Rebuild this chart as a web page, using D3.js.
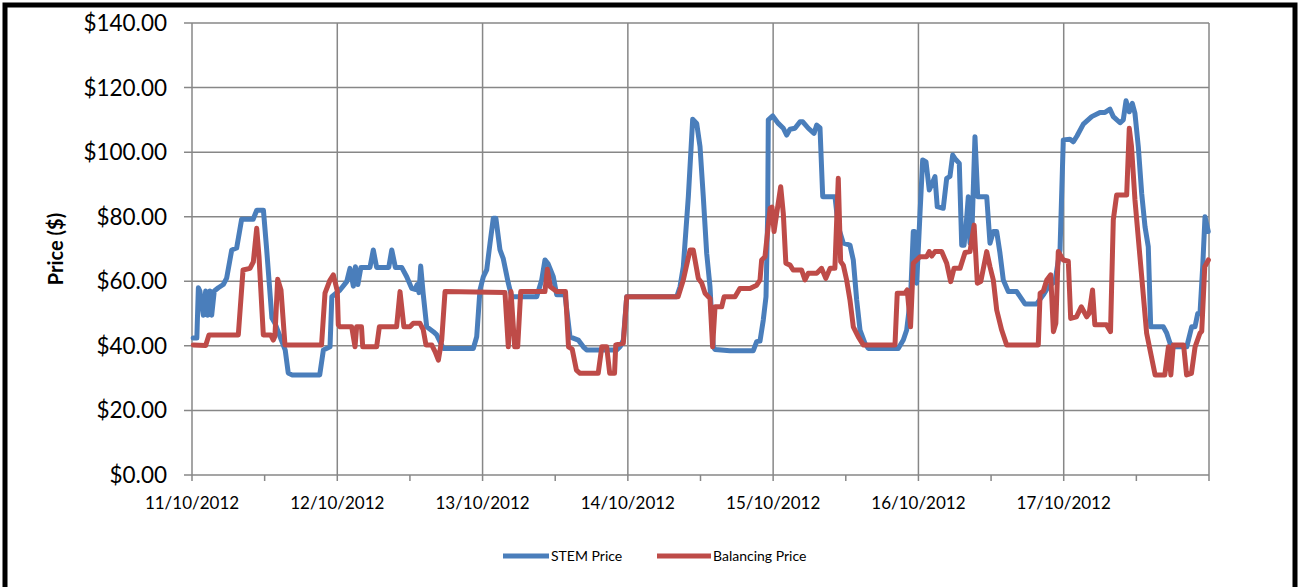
<!DOCTYPE html>
<html><head><meta charset="utf-8">
<script src="https://cdn.jsdelivr.net/npm/d3@7/dist/d3.min.js"></script>
<style>
html,body{margin:0;padding:0;background:#fff;}
svg{display:block;font-family:Lato,"Open Sans",sans-serif;}
</style></head>
<body>
<svg id="chart" width="1300" height="587"></svg>
<script>
// ---- data (hours since 11/10/2012 00:00, price $) ----
const dateLabels = ["11/10/2012","12/10/2012","13/10/2012","14/10/2012","15/10/2012","16/10/2012","17/10/2012"];
const yTickValues = [0,20,40,60,80,100,120,140];
const seriesNames = ["STEM Price","Balancing Price"];
const stemPoints = [[0.2,42.4],[0.8,42.4],[1.05,58],[1.3,57],[1.87,49.5],[2.26,57],[2.6,49.5],[2.97,57],[3.25,49.5],[3.68,57],[4.35,58],[5.17,59],[5.73,61],[6.56,69.7],[7.38,70.3],[8.2,79.2],[10.1,79.2],[10.7,82],[11.8,82],[12.3,70.7],[13.2,48.6],[13.7,47],[15.4,38.7],[15.9,31.6],[16.5,31],[21.1,31],[21.7,38.7],[22.8,39.7],[23.1,55.2],[24.45,57.3],[25.56,59.9],[26.1,64],[26.65,58.5],[27.0,64.5],[27.4,59],[27.9,64.3],[29.4,64.3],[29.95,69.7],[30.5,64.3],[32.5,64.3],[33.0,69.7],[33.6,64.3],[34.64,64.3],[35.47,61.4],[36.29,57.8],[36.84,57.5],[37.2,59],[37.5,56.5],[37.78,64.7],[38.2,56],[38.77,45.9],[39.86,44.4],[40.4,43.5],[41.51,39.2],[46.47,39.2],[47.03,42.8],[47.57,57.3],[48.12,61.4],[48.68,63.5],[49.23,71.8],[49.77,79.5],[50.2,79.5],[50.88,69.7],[51.42,67],[52.25,59.4],[52.81,55.2],[56.94,55.2],[57.77,60.4],[58.31,66.6],[58.8,65.5],[59.68,61.4],[60.25,55.8],[61.62,55.8],[62.44,42.8],[63.81,41.8],[64.64,39.7],[65.2,38.7],[70.16,38.7],[70.7,39.7],[71.25,41.8],[71.81,55.2],[80.07,55.2],[80.62,58.3],[81.16,64.5],[81.99,86.2],[82.71,110.2],[83.37,108.9],[83.92,101.7],[84.46,86.2],[85.02,68.7],[85.57,58.3],[86.11,39.7],[86.39,38.9],[88.87,38.5],[92.72,38.5],[93.28,41.3],[93.83,41.5],[94.37,48],[94.82,55.2],[95.1,81],[95.2,110],[95.93,111.2],[96.85,108.9],[97.68,107.4],[98.24,105.3],[98.78,107.1],[99.6,107.4],[100.44,109.4],[100.9,109.4],[101.81,107.4],[102.75,105.8],[103.2,108.4],[103.74,107.5],[104.19,86.2],[106.22,86.2],[106.76,76.9],[107.59,71.8],[108.69,71.2],[109.24,66.6],[109.8,54.2],[110.35,44.9],[111.17,40.8],[111.72,39.2],[116.67,39.2],[117.5,41.8],[118.06,44.9],[118.32,49],[118.7,55],[119.15,75.4],[119.35,75.4],[119.71,59.4],[120.26,81],[120.7,97.6],[121.25,97],[121.79,88.3],[122.2,90],[122.73,92.4],[123.11,83.1],[124.1,82.6],[124.67,91.9],[125.21,92.5],[125.66,99.1],[126.04,98],[126.75,96.5],[127.15,71.2],[127.53,71.2],[127.86,76.9],[128.24,86.2],[128.52,71.8],[128.85,76],[129.34,104.8],[129.79,86.2],[131.28,86.2],[131.82,71.8],[132.37,75.4],[132.93,75.4],[133.47,68.7],[134.02,60.4],[134.85,56.8],[136.23,56.8],[137.6,53],[139.54,53],[140.63,55.8],[141.46,58.3],[142.56,60],[143.39,69.7],[143.93,103.8],[145.04,104],[145.58,103.2],[146.19,105],[147.24,108.7],[148.62,111],[149.99,112.3],[150.82,112.3],[151.64,113.3],[152.19,111],[153.3,109.1],[153.84,110],[154.29,115.9],[154.83,112.5],[155.33,115.1],[155.77,112],[156.32,101.7],[156.88,87.2],[157.43,76.9],[157.97,70.7],[158.37,45.9],[160.45,45.9],[161.01,44],[161.56,40.8],[162.1,39.7],[164.32,39.7],[165.14,45.9],[165.69,45.9],[166.14,50],[166.51,50],[166.96,64.5],[167.34,80],[167.88,75.4]];
const balancingPoints = [[0.21,40.3],[2.26,40.1],[2.8,43.4],[7.65,43.4],[8.43,63.5],[9.58,64],[10.13,66],[10.69,76.4],[11.07,67.6],[11.78,43.4],[13.0,43.4],[13.43,41.8],[13.7,43],[14.15,60.6],[14.7,57.3],[15.36,40.3],[21.4,40.3],[21.97,56.3],[22.8,60.4],[23.35,62],[24.0,57],[24.17,46.5],[24.45,45.9],[26.38,45.9],[26.93,39.7],[27.2,45.9],[28.0,45.9],[28.2,39.7],[30.5,39.7],[30.95,45.9],[33.8,45.9],[34.36,56.8],[35.0,45.9],[36.0,45.9],[36.56,47],[37.66,47],[38.2,45],[38.65,40.3],[39.6,40.3],[40.15,38.2],[40.7,35.6],[41.25,41.8],[41.8,56.8],[51.7,56.5],[52.25,39.7],[52.7,56.8],[53.3,39.7],[53.8,39.7],[54.3,56.8],[58.3,56.8],[58.7,63.7],[59.2,58.3],[60.25,56.8],[61.7,56.8],[62.2,39.7],[62.8,39],[63.5,32.5],[64.1,31.5],[67.1,31.5],[67.7,39.7],[68.5,39.7],[69.0,31.5],[69.8,31.5],[70.0,40.3],[71.25,40.8],[71.81,55.2],[80.3,55.2],[81.16,60.4],[82.27,69.7],[82.8,69.7],[83.64,60.9],[84.2,59.5],[84.75,56.3],[85.57,54.7],[86.0,39.7],[86.4,52.1],[87.5,52.1],[87.9,55.2],[89.7,55.2],[90.5,57.8],[92.17,57.8],[93.28,58.8],[93.83,60.4],[94.1,66.6],[94.65,67.6],[95.5,82.6],[95.8,83],[96.15,75.4],[96.59,81],[97.25,89.3],[97.68,81],[98.1,65.6],[98.8,65],[99.3,63.5],[100.7,63.5],[101.26,60.4],[101.8,62.5],[103.2,62.5],[104.0,64],[104.7,60.9],[105.4,64],[106.2,64],[106.76,91.9],[107.15,66.1],[107.59,65],[108.14,60.4],[108.69,54.2],[109.24,45.9],[110.07,42.8],[110.9,40.3],[116.13,40.3],[116.5,56.3],[117.77,56.3],[118.15,57.3],[118.7,45.9],[119.15,65.6],[120.26,67.6],[121.36,67.6],[121.79,69.2],[122.2,67.8],[122.73,69.2],[123.84,69.2],[124.67,65.6],[125.33,59.9],[125.88,64],[126.87,64],[127.7,68.9],[128.52,69.2],[129.2,77.4],[129.73,59.4],[130.3,59.9],[131.28,69.2],[131.82,64.5],[132.37,60.4],[132.93,51.1],[133.75,44.9],[134.57,40.3],[139.8,40.3],[140.1,56.3],[140.63,57],[141.2,60.4],[141.85,62],[142.3,44.4],[142.7,47],[143.1,69.2],[143.93,66.6],[144.76,66.2],[145.15,48.5],[146.1,49],[146.9,52.1],[147.8,49],[148.2,50],[148.76,57.3],[149.14,46.5],[151.07,46.5],[151.73,44.4],[152.19,79],[152.74,86.7],[154.4,86.7],[154.83,107.4],[155.2,101.7],[155.77,85.2],[157.7,43.9],[159.1,31],[160.7,31],[161.3,39.7],[161.7,31],[162.1,40.3],[163.8,40.3],[164.3,31],[165.1,31.5],[165.7,39.7],[166.5,43.9],[166.8,44.5],[167.3,64.5],[167.9,66.6]];
const seriesColors = ["#4a7ebb","#be4b48"];

// ---- layout ----
const svg = d3.select("#chart");
const L = 192, R = 1209, T = 23, B = 475;
const x = d3.scaleLinear().domain([0, 168]).range([L, R]);
const y = d3.scaleLinear().domain([0, 140]).range([B, T]);
const gridColor = "#878787";

// outer frame
svg.append("rect").attr("x", 5).attr("y", 5).attr("width", 1290).attr("height", 600)
  .attr("fill", "none").attr("stroke", "#000").attr("stroke-width", 5);

// horizontal gridlines
svg.append("g").selectAll("line").data(yTickValues).join("line")
  .attr("x1", L - 8).attr("x2", R).attr("y1", d => y(d)).attr("y2", d => y(d))
  .attr("stroke", gridColor).attr("stroke-width", 1.5);
// vertical gridlines (day boundaries)
svg.append("g").selectAll("line").data(d3.range(0, 8)).join("line")
  .attr("x1", d => x(d * 24)).attr("x2", d => x(d * 24)).attr("y1", T).attr("y2", B + 6)
  .attr("stroke", gridColor).attr("stroke-width", 1.5);
// half-day ticks
svg.append("g").selectAll("line").data(d3.range(0, 7)).join("line")
  .attr("x1", d => x(d * 24 + 12)).attr("x2", d => x(d * 24 + 12)).attr("y1", B).attr("y2", B + 6)
  .attr("stroke", gridColor).attr("stroke-width", 1.5);

// y tick labels
svg.append("g").selectAll("text").data(yTickValues).join("text")
  .attr("x", 167).attr("y", d => y(d) + 8).attr("text-anchor", "end")
  .attr("font-size", 22.5).attr("fill", "#000")
  .text(d => "$" + d3.format(".2f")(d));

// x labels
svg.append("g").selectAll("text").data(dateLabels).join("text")
  .attr("x", (d, i) => x(i * 24)).attr("y", 509).attr("text-anchor", "middle")
  .attr("font-size", 17).attr("fill", "#000").text(d => d);

// y axis title
svg.append("text").attr("transform", "translate(63,249) rotate(-90)")
  .attr("text-anchor", "middle").attr("font-size", 20).attr("font-weight", "bold").text("Price ($)");

// series
const line = d3.line().x(d => x(d[0])).y(d => y(d[1]));
[stemPoints, balancingPoints].forEach((pts, i) => {
  svg.append("path").datum(pts).attr("d", line).attr("fill", "none")
    .attr("stroke", seriesColors[i]).attr("stroke-width", 5)
    .attr("stroke-linejoin", "round").attr("stroke-linecap", "round");
});

// legend
const legendItems = [{x: 503, w: 46}, {x: 657, w: 54}];
seriesNames.forEach((name, i) => {
  const g = svg.append("g");
  g.append("line").attr("x1", legendItems[i].x).attr("x2", legendItems[i].x + legendItems[i].w)
    .attr("y1", 556).attr("y2", 556).attr("stroke", seriesColors[i]).attr("stroke-width", 5);
  g.append("text").attr("x", legendItems[i].x + legendItems[i].w + 2).attr("y", 561)
    .attr("font-size", 14).attr("fill", "#000").text(name);
});
</script>
</body></html>
